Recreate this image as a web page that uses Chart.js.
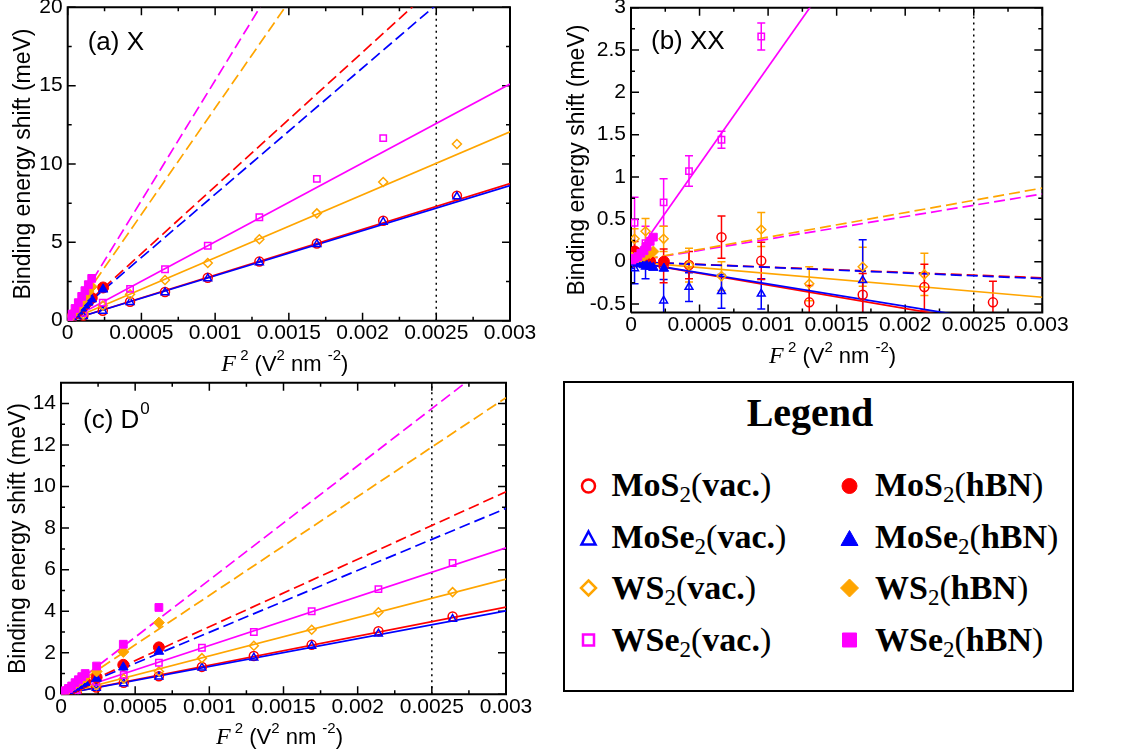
<!DOCTYPE html>
<html>
<head>
<meta charset="utf-8">
<script src="https://cdn.jsdelivr.net/npm/chart.js@4.4.1/dist/chart.umd.min.js"></script>
<style>
  body { margin: 0; background: #fff; width: 1127px; height: 756px; position: relative; overflow: hidden; }
  canvas, svg { position: absolute; }
</style>
</head>
<body>
<canvas id="ca" width="545" height="380" style="left:0px;top:0px"></canvas>
<canvas id="cb" width="567" height="370" style="left:560px;top:0px"></canvas>
<canvas id="cc" width="545" height="386" style="left:0px;top:370px"></canvas>
<svg id="legend" width="512" height="312" style="left:563px;top:381px" font-family="'Liberation Serif','DejaVu Serif',serif">
  <rect x="1" y="1" width="509" height="309" fill="none" stroke="#000" stroke-width="2"/>
  <text x="247" y="45" font-size="40" font-weight="bold" text-anchor="middle">Legend</text>
  <g id="legend-items"></g>
</svg>
<script>
// F^2 grid (V^2 nm^-2) of the vacuum and hBN-encapsulated points
const xVac = [0, 0.000026, 0.000106, 0.000238, 0.000423, 0.00066, 0.00095, 0.0013, 0.00169, 0.00214, 0.00264];
const xBN = [0.000007, 0.000027, 0.00005, 0.000072, 0.000095, 0.000117, 0.00014, 0.000163, 0.00024, 0.00042, 0.00066];
const xFit = [0, 0.003];
const xDotted = [0.0025, 0.0025];
const xTicks = [0, 0.0005, 0.001, 0.0015, 0.002, 0.0025, 0.003];

// (a) X
const aYTicks = [0, 5, 10, 15, 20];
const aVacMoS2 = [0, 0.08, 0.31, 0.64, 1.21, 1.83, 2.74, 3.77, 4.93, 6.38, 7.98];
const aVacMoSe2 = [0, 0.07, 0.29, 0.62, 1.18, 1.80, 2.70, 3.72, 4.88, 6.30, 7.92];
const aVacWS2 = [0, 0.10, 0.40, 0.96, 1.68, 2.60, 3.68, 5.20, 6.85, 8.85, 11.28];
const aVacWSe2 = [0, 0.13, 0.50, 1.15, 2.03, 3.28, 4.78, 6.60, 9.05, 11.65, null];
const aBNMoS2 = [0.06, 0.24, 0.44, 0.64, 0.84, 1.04, 1.24, 1.45, 2.12, null, null];
const aBNMoSe2 = [0.06, 0.22, 0.41, 0.60, 0.79, 0.98, 1.17, 1.37, 2.00, null, null];
const aBNWS2 = [0.09, 0.34, 0.62, 0.92, 1.22, 1.52, 1.84, 2.16, null, null, null];
const aBNWSe2 = [0.10, 0.42, 0.78, 1.15, 1.55, 1.92, 2.30, 2.70, null, null, null];
const aFitVac = [[0, 8.75], [0, 8.62], [0, 12.05], [0, 15.1]];
const aFitBN = [[0, 25.7], [0, 24.2], [0, 40.7], [0, 46.0]];

// (b) XX
const bYTicks = [-0.5, 0, 0.5, 1, 1.5, 2, 2.5, 3];
const bVacMoS2 = [0.02, 0.12, 0.06, -0.05, -0.04, 0.29, 0.01, -0.48, -0.39, -0.30, -0.48];
const bErrMoS2 = [0.08, 0.12, 0.12, 0.2, 0.16, 0.25, 0.22, 0.2, 0.25, 0.27, 0.25];
const bVacMoSe2 = [0, -0.08, -0.06, -0.46, -0.30, -0.35, -0.38, null, -0.22, null, null];
const bErrMoSe2 = [0.08, 0.18, 0.14, 0.25, 0.17, 0.2, 0.18, 0, 0.48, 0, 0];
const bVacWS2 = [0.05, 0.27, 0.36, 0.27, -0.04, -0.17, 0.38, -0.26, -0.06, -0.15, null];
const bErrWS2 = [0.08, 0.12, 0.15, 0.15, 0.2, 0.17, 0.2, 0.2, 0.23, 0.25, 0];
const bVacWSe2 = [0.02, 0.46, 0.22, 0.70, 1.07, 1.44, 2.66, null, null, null, null];
const bErrWSe2 = [0.08, 0.3, 0.2, 0.28, 0.18, 0.1, 0.16, 0, 0, 0, 0];
const bBNMoS2 = [0.08, 0.12, 0.05, 0.04, 0.02, 0.01, 0, null, 0, null, null];
const bBNMoSe2 = [0, -0.01, -0.02, -0.03, -0.04, -0.05, -0.06, -0.07, -0.08, null, null];
const bBNWS2 = [0.05, 0.04, 0.05, 0.06, 0.07, 0.09, 0.10, 0.12, null, null, null];
const bBNWSe2 = [0.02, 0.04, 0.06, 0.10, 0.13, 0.18, 0.24, 0.29, null, null, null];
const bFitVac = [[0, -0.83], [0, -0.79], [0, -0.42], [0, 6.9]];
const bFitBN = [[0, -0.19], [0, -0.2], [0, 0.87], [0, 0.80]];

// (c) D0
const cYTicks = [0, 2, 4, 6, 8, 10, 12, 14];
const cVacMoS2 = [0, 0.02, 0.10, 0.33, 0.55, 0.87, 1.32, 1.84, 2.38, 3.04, 3.75];
const cVacMoSe2 = [0, 0.02, 0.09, 0.30, 0.52, 0.85, 1.28, 1.76, 2.33, 2.92, 3.62];
const cVacWS2 = [0, 0.03, 0.14, 0.44, 0.75, 1.10, 1.74, 2.34, 3.11, 3.95, 4.92];
const cVacWSe2 = [0, 0.04, 0.20, 0.60, 0.93, 1.52, 2.24, 3.00, 4.00, 5.06, 6.32];
const cBNMoS2 = [0.03, 0.10, 0.19, 0.27, 0.35, 0.44, 0.52, 0.60, 0.82, 1.42, 2.26];
const cBNMoSe2 = [0.03, 0.09, 0.17, 0.25, 0.33, 0.41, 0.49, 0.56, 0.76, 1.30, 2.06];
const cBNWS2 = [0.04, 0.13, 0.25, 0.36, 0.48, 0.59, 0.70, 0.81, 1.10, 2.04, 3.45];
const cBNWSe2 = [0.05, 0.17, 0.28, 0.40, 0.56, 0.70, 0.85, 1.00, 1.36, 2.41, 4.18];
const cFitVac = [[0, 4.2], [0, 4.02], [0, 5.55], [0, 7.05]];
const cFitBN = [[0, 9.75], [0, 8.95], [0, 14.28], [0, 16.5]];

const MATERIALS = ["MoS2", "MoSe2", "WS2", "WSe2"];
const COLORS = { MoS2: "#ff0000", MoSe2: "#0000ff", WS2: "#ffa500", WSe2: "#ff00ff" };
const MARKERS = { MoS2: "circle", MoSe2: "triangle", WS2: "rectRot", WSe2: "rect" };
const SANS = '"Liberation Sans", Arimo, Arial, sans-serif';
const SERIF = '"Liberation Serif", "DejaVu Serif", serif';
const NS = "http://www.w3.org/2000/svg";

function pts(xs, ys, es) {
  const out = [];
  xs.forEach((x, i) => {
    if (ys[i] !== null && ys[i] !== undefined) out.push({ x, y: ys[i], e: es ? es[i] : 0 });
  });
  return out;
}

// vertical error bars, drawn under the markers
const errorBarPlugin = {
  id: "errorBars",
  beforeDatasetsDraw(chart) {
    const { ctx, chartArea: a } = chart;
    const sy = chart.scales.y;
    ctx.save();
    ctx.beginPath();
    ctx.rect(a.left, a.top, a.right - a.left, a.bottom - a.top);
    ctx.clip();
    chart.data.datasets.forEach((ds, i) => {
      if (!ds.errorBars) return;
      const meta = chart.getDatasetMeta(i);
      ds.data.forEach((d, j) => {
        if (!d.e) return;
        const px = meta.data[j].x;
        const t = sy.getPixelForValue(d.y + d.e), b = sy.getPixelForValue(d.y - d.e);
        ctx.strokeStyle = ds.borderColor;
        ctx.lineWidth = 1.5;
        ctx.beginPath();
        ctx.moveTo(px, t); ctx.lineTo(px, b);
        ctx.moveTo(px - 4, t); ctx.lineTo(px + 4, t);
        ctx.moveTo(px - 4, b); ctx.lineTo(px + 4, b);
        ctx.stroke();
      });
    });
    ctx.restore();
  },
};

// panel label and the F^2 axis title
const textPlugin = {
  id: "texts",
  afterDraw(chart, args, o) {
    const { ctx, chartArea: a } = chart;
    ctx.save();
    ctx.fillStyle = "#000";
    ctx.textBaseline = "alphabetic";
    ctx.textAlign = "left";
    ctx.font = `26px ${SANS}`;
    const lx = a.left + o.labelDx, ly = a.top + o.labelDy;
    ctx.fillText(o.label, lx, ly);
    if (o.labelSup) {
      const lw = ctx.measureText(o.label).width;
      ctx.font = `17px ${SANS}`;
      ctx.fillText(o.labelSup, lx + lw + 1, ly - 14);
    }
    const segs = [
      { t: "F", f: `italic 24px ${SERIF}`, dy: 0 },
      { t: " 2", f: `15px ${SANS}`, dy: -11 },
      { t: " (V", f: `22px ${SANS}`, dy: 0 },
      { t: "2", f: `15px ${SANS}`, dy: -11 },
      { t: " nm ", f: `22px ${SANS}`, dy: 0 },
      { t: "-2", f: `15px ${SANS}`, dy: -11 },
      { t: ")", f: `22px ${SANS}`, dy: 0 },
    ];
    let total = 0;
    segs.forEach((s) => { ctx.font = s.f; s.w = ctx.measureText(s.t).width; total += s.w; });
    let cx = (a.left + a.right) / 2 - total / 2 - 4;
    const base = a.bottom + 50;
    segs.forEach((s) => { ctx.font = s.f; ctx.fillText(s.t, cx, base + s.dy); cx += s.w; });
    ctx.restore();
  },
};

// frame box and inward major/minor ticks, added as two more line datasets built
// from the scale limits and tick values
function addFrame(chart, minorX, minorY) {
  const a = chart.chartArea, sx = chart.scales.x, sy = chart.scales.y;
  const ux = (sx.max - sx.min) / (a.right - a.left);
  const uy = (sy.max - sy.min) / (a.bottom - a.top);
  const minors = (scale, half) => {
    const v = scale.ticks.map((t) => t.value);
    const c = [v[0] - half].concat(v.map((t) => t + half));
    return c.filter((m) => m > scale.min + 1e-9 && m < scale.max - 1e-9);
  };
  const tickPts = [];
  const xTick = (v, len) => {
    tickPts.push({ x: v, y: sy.min }, { x: v, y: sy.min + len * uy }, { x: v, y: null },
                 { x: v, y: sy.max }, { x: v, y: sy.max - len * uy }, { x: v, y: null });
  };
  const yTick = (v, len) => {
    tickPts.push({ x: sx.min, y: v }, { x: sx.min + len * ux, y: v }, { x: sx.min, y: null },
                 { x: sx.max, y: v }, { x: sx.max - len * ux, y: v }, { x: sx.max, y: null });
  };
  sx.ticks.forEach((t) => xTick(t.value, 8));
  minors(sx, minorX).forEach((m) => xTick(m, 4));
  sy.ticks.forEach((t) => yTick(t.value, 8));
  minors(sy, minorY).forEach((m) => yTick(m, 4));
  chart.data.datasets.push({
    data: tickPts, showLine: true, spanGaps: false, pointRadius: 0,
    borderColor: "#000", borderWidth: 1.5, clip: false,
  });
  chart.data.datasets.push({
    data: [{ x: sx.min, y: sy.min }, { x: sx.max, y: sy.min }, { x: sx.max, y: sy.max },
           { x: sx.min, y: sy.max }, { x: sx.min, y: sy.min }],
    showLine: true, pointRadius: 0, borderColor: "#000", borderWidth: 2, clip: false,
  });
  chart.update();
}

function makePanel(id, p) {
  // first dataset is drawn on top
  const order = [3, 2, 1, 0];
  const datasets = [];
  order.forEach((k) => { const m = MATERIALS[k]; datasets.push({
    data: pts(xBN, p.bn[k]), showLine: false, pointStyle: MARKERS[m], pointRadius: 5.5,
    backgroundColor: COLORS[m], borderColor: COLORS[m], borderWidth: 1,
  }); });
  order.forEach((k) => { const m = MATERIALS[k]; datasets.push({
    data: pts(xVac, p.vac[k], p.err ? p.err[k] : null), showLine: false, pointStyle: MARKERS[m],
    pointRadius: 4.5, backgroundColor: "rgba(0,0,0,0)", borderColor: COLORS[m], borderWidth: 1.5,
    errorBars: !!p.err,
  }); });
  order.forEach((k) => { const m = MATERIALS[k]; datasets.push({
    data: pts(xFit, p.fitVac[k]), showLine: true, pointRadius: 0, borderColor: COLORS[m], borderWidth: 1.7,
  }); });
  [2, 3, 1, 0].forEach((k) => { const m = MATERIALS[k]; datasets.push({
    data: pts(xFit, p.fitBN[k]), showLine: true, pointRadius: 0, borderColor: COLORS[m], borderWidth: 1.7,
    borderDash: [11, 5],
  }); });
  datasets.push({
    data: pts(xDotted, [p.yMin, p.yMax]), showLine: true, pointRadius: 0, borderColor: "#000",
    borderWidth: 1.5, borderDash: [2, 4],
  });

  const chart = new Chart(document.getElementById(id), {
    type: "scatter",
    data: { datasets },
    plugins: [errorBarPlugin, textPlugin],
    options: {
      responsive: false,
      animation: false,
      events: [],
      layout: { padding: { left: 0, top: p.padTop, right: p.padRight, bottom: 0 } },
      plugins: {
        legend: { display: false },
        tooltip: { enabled: false },
        texts: { label: p.label, labelSup: p.labelSup, labelDx: p.labelDx, labelDy: p.labelDy },
      },
      scales: {
        x: {
          type: "linear", min: 0, max: 0.003,
          afterBuildTicks: (s) => { s.ticks = xTicks.map((v) => ({ value: v })); },
          afterFit: (s) => { s.height = p.xHeight; },
          grid: { display: false, drawTicks: false },
          border: { display: false },
          ticks: { callback: (v) => String(v), font: { family: SANS, size: 21, lineHeight: 1.2 },
                   color: "#000", padding: 0, maxRotation: 0, minRotation: 0, autoSkip: false },
        },
        y: {
          type: "linear", min: p.yMin, max: p.yMax,
          afterBuildTicks: (s) => { s.ticks = p.yTicks.map((v) => ({ value: v })); },
          afterFit: (s) => { s.width = p.yWidth; },
          grid: { display: false, drawTicks: false },
          border: { display: false },
          ticks: { callback: (v) => String(v), font: { family: SANS, size: 21, lineHeight: 0.2 },
                   color: "#000", padding: 5, autoSkip: false },
          title: { display: true, text: "Binding energy shift (meV)", color: "#000",
                   font: { family: SANS, size: 23 }, padding: { top: p.titlePad, bottom: 0 } },
        },
      },
    },
  });
  addFrame(chart, 0.00025, p.minorY);
  return chart;
}

makePanel("ca", {
  label: "(a) X", labelDx: 20, labelDy: 43, yMin: 0, yMax: 20, yTicks: aYTicks, minorY: 2.5,
  vac: [aVacMoS2, aVacMoSe2, aVacWS2, aVacWSe2], bn: [aBNMoS2, aBNMoSe2, aBNWS2, aBNWSe2],
  fitVac: aFitVac, fitBN: aFitBN,
  padTop: 7.3, padRight: 35, yWidth: 67.7, xHeight: 59.3, titlePad: 10,
});
makePanel("cb", {
  label: "(b) XX", labelDx: 20, labelDy: 41, yMin: -0.6, yMax: 3, yTicks: bYTicks, minorY: 0.25,
  vac: [bVacMoS2, bVacMoSe2, bVacWS2, bVacWSe2], bn: [bBNMoS2, bBNMoSe2, bBNWS2, bBNWSe2],
  err: [bErrMoS2, bErrMoSe2, bErrWS2, bErrWSe2],
  fitVac: bFitVac, fitBN: bFitBN,
  padTop: 7.7, padRight: 84.7, yWidth: 71, xHeight: 57.5, titlePad: 4,
});
makePanel("cc", {
  label: "(c) D", labelSup: "0", labelDx: 22, labelDy: 45, yMin: 0, yMax: 15, yTicks: cYTicks, minorY: 1,
  vac: [cVacMoS2, cVacMoSe2, cVacWS2, cVacWSe2], bn: [cBNMoS2, cBNMoSe2, cBNWS2, cBNWSe2],
  fitVac: cFitVac, fitBN: cFitBN,
  padTop: 12.7, padRight: 39, yWidth: 61, xHeight: 61.7, titlePad: 5,
});

// legend: two columns, vacuum (open) and hBN (filled)
const legendNames = ["MoS", "MoSe", "WS", "WSe"];
const legendMarkerY = [105, 158, 207, 259];
const legendTextY = [115, 166.5, 218, 270];
const g = document.getElementById("legend-items");
function marker(m, cx, cy, filled) {
  const c = COLORS[m];
  let el;
  if (m === "MoS2") {
    el = document.createElementNS(NS, "circle");
    el.setAttribute("cx", cx); el.setAttribute("cy", cy); el.setAttribute("r", filled ? 7.5 : 6.5);
  } else {
    el = document.createElementNS(NS, "polygon");
    let p;
    if (m === "MoSe2") p = filled ? [[0, -8.5], [8.5, 6.5], [-8.5, 6.5]] : [[0, -7.5], [7, 5.5], [-7, 5.5]];
    else if (m === "WS2") p = filled ? [[0, -9], [9, 0], [0, 9], [-9, 0]] : [[0, -7.5], [7.5, 0], [0, 7.5], [-7.5, 0]];
    else p = filled ? [[-7, -7], [7, -7], [7, 7], [-7, 7]] : [[-5.5, -5.5], [5.5, -5.5], [5.5, 5.5], [-5.5, 5.5]];
    el.setAttribute("points", p.map(([dx, dy]) => `${cx + dx},${cy + dy}`).join(" "));
  }
  el.setAttribute("fill", filled ? c : "none");
  el.setAttribute("stroke", c);
  el.setAttribute("stroke-width", filled ? 1 : 2.5);
  g.appendChild(el);
}
function label(x, y, base, env) {
  const t = document.createElementNS(NS, "text");
  t.setAttribute("x", x); t.setAttribute("y", y); t.setAttribute("font-size", 34);
  t.innerHTML = `<tspan font-weight="bold">${base}</tspan><tspan font-size="23" dy="6">2</tspan>` +
    `<tspan dy="-6">(</tspan><tspan font-weight="bold">${env}</tspan><tspan>)</tspan>`;
  g.appendChild(t);
}
MATERIALS.forEach((m, i) => {
  marker(m, 25.5, legendMarkerY[i], false);
  label(48.5, legendTextY[i], legendNames[i], "vac.");
  marker(m, 286.5, legendMarkerY[i], true);
  label(312, legendTextY[i], legendNames[i], "hBN");
});
</script>
</body>
</html>
